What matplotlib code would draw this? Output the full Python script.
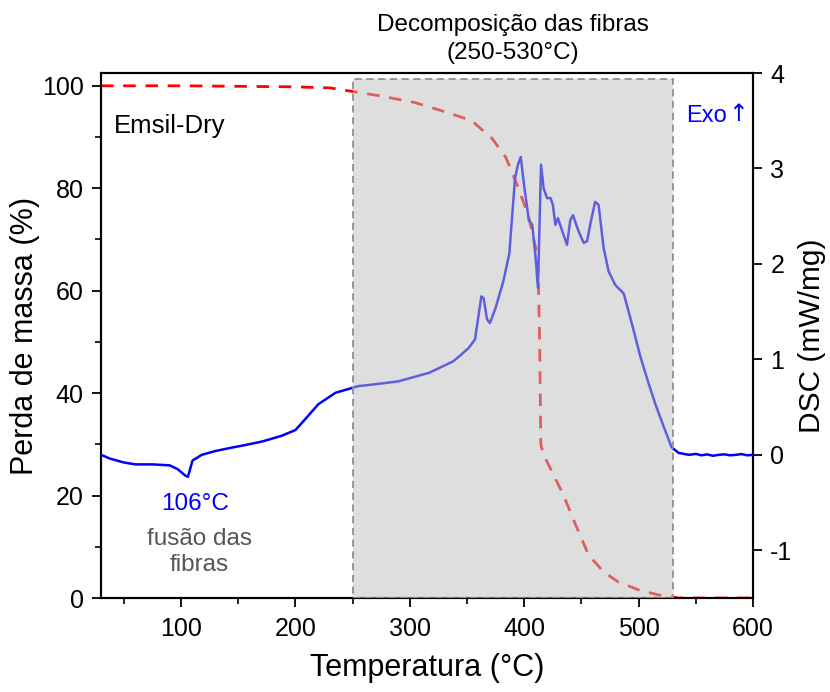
import matplotlib
matplotlib.use("Agg")
import matplotlib.pyplot as plt
from matplotlib.patches import Rectangle
from matplotlib.ticker import MultipleLocator

plt.rcParams['font.family'] = ['Liberation Sans', 'DejaVu Sans']

# TGA (mass loss, left axis)
tga_T = [30, 100, 150, 200, 230, 247, 275, 305, 334, 354, 372, 384, 395, 404, 410,
         412, 413.5, 414.5, 417, 425.8, 434.5, 443.2, 456.3, 469.4, 482.5, 500,
         517.5, 535, 600]
tga_mass = [100, 100, 99.9, 99.8, 99.6, 99.0, 98.0, 96.7, 94.7, 93.2, 89.7, 86, 80,
            74.3, 68.4, 66, 50, 30, 27.9, 24, 20, 15.2, 8.4, 5.1, 3.1, 1.6, 0.6, 0, 0]

# DSC (right axis)
dsc_T = [30, 38, 50, 60, 75, 90, 97, 104, 106, 110, 118, 130, 142, 155, 171, 188,
         200, 209, 220, 235, 255, 270, 290, 317, 338, 343, 351.5, 357, 362.5, 364.5,
         367.5, 370, 375, 382, 387, 389.5, 392, 394.5, 397, 399.5, 404, 407, 410, 412,
         414.7, 417, 420, 423, 425, 427.3, 429.5, 432.5, 437.4, 440.3, 442.6, 447.6,
         452, 455, 458, 462, 465, 469.4, 473.8, 479.6, 487, 494, 501.5, 508.7, 515,
         521.8, 528.8, 535, 544, 550, 555, 560, 565, 570, 575, 580, 585, 590, 595, 600]
dsc_val = [0.0, -0.04, -0.08, -0.1, -0.1, -0.11, -0.15, -0.22, -0.23, -0.06, 0.0, 0.04,
           0.07, 0.1, 0.14, 0.2, 0.26, 0.38, 0.53, 0.65, 0.72, 0.74, 0.77, 0.86, 0.98,
           1.03, 1.12, 1.21, 1.66, 1.64, 1.42, 1.38, 1.54, 1.83, 2.11, 2.51, 2.9, 3.04,
           3.12, 2.86, 2.46, 2.41, 2.06, 1.75, 3.04, 2.79, 2.69, 2.69, 2.62, 2.41, 2.48,
           2.37, 2.2, 2.46, 2.51, 2.34, 2.22, 2.24, 2.43, 2.65, 2.62, 2.17, 1.92, 1.78,
           1.69, 1.38, 1.03, 0.75, 0.52, 0.3, 0.08, 0.02, 0.0, 0.01, -0.005, 0.005,
           -0.01, 0.0, 0.005, -0.005, 0.0, 0.008, -0.005, 0.0]

x_ticks = [100, 200, 300, 400, 500, 600]
left_ticks = [0, 20, 40, 60, 80, 100]
right_ticks = [-1, 0, 1, 2, 3, 4]

fig = plt.figure(figsize=(8.3, 6.92), dpi=100)
ax = fig.add_axes([0.1217, 0.1358, 0.7855, 0.7587])
ax2 = ax.twinx()

ax.plot(tga_T, tga_mass, color='#ff0000', lw=2.0, ls=(0, (4.5, 3.5)), zorder=3)
ax2.plot(dsc_T, dsc_val, color='#0000ff', lw=1.8, zorder=3)

ax.set_xlim(30, 600)
ax.set_ylim(0, 102.5)
ax2.set_ylim(-1.5, 4)

ax.set_xticks(x_ticks)
ax.xaxis.set_minor_locator(MultipleLocator(50))
ax.set_yticks(left_ticks)
ax.yaxis.set_minor_locator(MultipleLocator(10))
ax2.set_yticks(right_ticks)
ax2.set_yticklabels(['-1', '0', '1', '2', '3', '4'])

for a in (ax, ax2):
    a.tick_params(which='major', direction='out', length=6.5, width=1.3,
                  labelsize=18, pad=6)
    a.tick_params(which='minor', direction='out', length=4, width=1.2)
    for s in a.spines.values():
        s.set_linewidth(1.5)
ax.tick_params(axis='x', which='major', pad=7)

ax.set_xlabel('Temperatura (°C)', fontsize=22, labelpad=9)
ax.set_ylabel('Perda de massa (%)', fontsize=22, labelpad=1)
ax2.set_ylabel('DSC (mW/mg)', fontsize=21.5, labelpad=4)

# shaded decomposition region drawn on top
ax2.set_zorder(ax.get_zorder() + 1)
ax2.patch.set_visible(False)
rect = Rectangle((250, -1.5), 280, 5.44, transform=ax2.transData,
                 facecolor=(0.75, 0.75, 0.75, 0.5), edgecolor='#909090',
                 linestyle=(0, (4, 2.5)), linewidth=1.3, zorder=5)
ax2.add_patch(rect)

ax.text(41.5, 92.2, 'Emsil-Dry', fontsize=18.5, ha='left', va='center')
ax2.text(577, 3.55, 'Exo', fontsize=17, color='#0000ff', ha='right', va='center')
ax2.text(587, 3.57, '↑', fontsize=17, color='#0000ff', ha='center', va='center',
         family=['DejaVu Sans'])
ax.text(112, 18.3, '106°C', fontsize=17.5, color='#0000ff', ha='center', va='center')
ax.text(115.7, 9.0, 'fusão das\nfibras', fontsize=17.5, color='#555555', ha='center',
        va='center', linespacing=1.22)
ax.text(390, 1.018, 'Decomposição das fibras\n(250-530°C)', fontsize=17.5,
        transform=ax.get_xaxis_transform(), ha='center', va='bottom', linespacing=1.3)

fig.savefig('out.png', dpi=100)
